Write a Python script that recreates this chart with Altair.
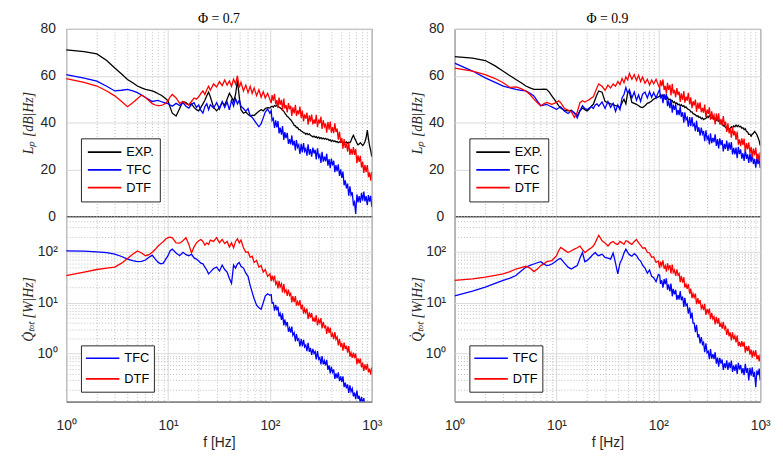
import altair as alt
import pandas as pd

# ---------------- data ----------------
FREQ = [1, 1.5, 2, 2.5, 3, 3.5, 4, 4.5, 5, 5.5, 6, 6.5, 7, 7.5, 8, 8.5, 9, 9.5, 10,
        10.5, 11, 12, 13, 14, 15, 16, 17, 18, 19, 20, 21, 22, 23, 24, 25, 26, 28, 30, 32,
        34, 36, 38, 40, 42, 44, 46, 48, 50, 52, 55, 58, 61, 64, 67, 70, 74, 78, 82, 86,
        90, 95, 100,
        103, 105, 108, 111, 114, 117, 120, 123, 126, 130,
        133, 137, 140, 144, 148, 152, 156, 160, 164, 168,
        173, 178, 182, 187, 192, 197, 203, 208, 214, 219,
        225, 231, 237, 244, 250, 257, 264, 271, 278, 285,
        293, 301, 309, 317, 325, 334, 343, 352, 361, 371,
        381, 391, 401, 412, 423, 434, 445, 457, 469, 482,
        495, 508, 521, 535, 549, 564, 579, 594, 610, 626,
        643, 660, 677, 695, 714, 733, 752, 772, 793, 814,
        835, 857, 880, 904, 928, 952, 977, 1000]

# Phi = 0.7, L_p [dB/Hz]
L07_EXP = [71.0, 70.3, 69.3, 66.5, 63.3, 60.7, 58.4, 57.0, 55.6, 54.8, 54.2, 53.9, 53.5, 53.0, 52.3, 51.8, 51.0, 50.2, 49.3,
           46.5, 44.0, 42.8, 46.0, 49.0, 48.5, 47.5, 48.0, 46.5, 45.5, 45.0, 46.5, 48.0, 49.5, 51.5, 53.0, 51.0, 46.5, 45.0, 46.5,
           48.5, 47.5, 50.0, 52.5, 51.0, 49.0, 52.0, 58.0, 51.0, 45.5, 44.0, 44.5, 43.5, 42.8, 43.2, 43.0, 44.0, 44.8, 45.5, 45.0,
           46.0, 46.4, 46.2,
           46.8, 47.0, 46.6, 47.3, 47.0, 47.4, 46.9, 46.6, 46.3, 45.8,
           45.2, 44.8, 44.0, 43.4, 42.6, 42.3, 41.6, 41.2, 40.5, 39.9,
           38.8, 38.6, 37.9, 37.9, 37.0, 37.0, 36.3, 36.2, 35.6, 35.6,
           35.0, 35.4, 34.8, 35.2, 34.6, 34.3, 33.9, 34.2, 33.7, 34.0,
           33.4, 33.8, 33.2, 33.6, 33.0, 33.4, 32.9, 33.3, 32.8, 33.0,
           32.4, 32.6, 32.0, 32.4, 31.9, 32.2, 31.7, 31.9, 31.4, 31.8,
           31.5, 31.9, 31.3, 31.7, 31.4, 31.8, 31.2, 31.6, 31.4, 32.2,
           33.6, 34.6, 33.4, 32.4, 31.2, 30.5, 30.8, 31.4, 30.8, 30.2,
           30.8, 31.8, 33.5, 36.8, 33.0, 30.0, 28.0, 25.5]
L07_TFC = [60.5, 59.0, 57.7, 55.5, 53.5, 53.8, 54.2, 53.5, 52.8, 51.8, 50.7, 49.8, 49.0, 49.3, 49.5, 49.0, 48.6, 48.3, 48.1,
           47.5, 47.0, 48.2, 47.3, 48.5, 47.0, 46.2, 47.8, 48.5, 46.5, 47.5, 45.2, 44.0, 46.8, 48.0, 45.5, 47.6, 46.2, 48.5, 45.8,
           49.0, 46.5, 48.8, 45.4, 49.5, 47.0, 50.2, 48.0, 49.5, 47.0, 46.0, 44.8, 46.0, 43.0, 42.2, 41.0, 39.5, 38.2, 39.5, 42.0,
           44.5, 45.8, 44.0,
           45.2, 40.9, 41.8, 37.7, 40.9, 37.9, 40.6, 35.4, 37.8, 34.8,
           38.5, 32.6, 35.9, 33.4, 35.6, 30.9, 32.9, 30.7, 34.5, 30.2,
           32.3, 28.1, 32.5, 29.4, 30.5, 26.6, 30.9, 27.3, 31.2, 27.7,
           28.9, 25.9, 30.7, 26.3, 28.7, 25.4, 29.3, 26.8, 28.4, 24.3,
           29.0, 25.1, 26.2, 22.8, 27.5, 23.3, 25.5, 23.4, 26.7, 21.6,
           24.4, 20.5, 24.6, 21.7, 23.7, 18.8, 21.8, 19.1, 22.2, 17.2,
           20.0, 16.4, 19.1, 13.2, 15.3, 11.9, 13.9, 8.8, 12.8, 9.0,
           10.2, 5.0, 6.1, 1.0, 9.3, 5.9, 8.6, 5.8, 10.0, 6.6,
           10.5, 6.3, 8.6, 4.7, 9.0, 6.2, 8.7, 4.0]
L07_DTF = [58.8, 57.2, 55.6, 53.5, 51.4, 49.0, 46.8, 48.5, 50.2, 51.8, 50.7, 49.3, 48.1, 47.5, 47.2, 47.3, 47.6, 48.3, 49.3,
           51.0, 52.0, 50.5, 48.2, 49.0, 48.0, 47.6, 49.0, 50.5, 50.0, 51.0, 52.5, 53.5, 52.0, 54.0, 55.5, 53.8, 56.5, 55.2, 57.5,
           55.8, 58.2, 56.0, 57.8, 55.5, 58.5, 56.5, 60.0, 55.0, 57.2, 53.5, 56.0, 52.8, 55.5, 52.5, 54.8, 51.5, 54.0, 50.8, 53.2,
           50.5, 52.5, 49.8,
           48.3, 51.7, 49.4, 52.3, 47.8, 49.6, 46.2, 50.7, 47.6, 49.7,
           45.2, 50.2, 46.0, 47.5, 44.3, 48.3, 45.7, 47.2, 42.8, 46.5,
           43.9, 47.6, 42.8, 45.2, 43.5, 46.8, 42.0, 45.1, 40.5, 43.5,
           41.7, 44.3, 39.1, 43.1, 40.4, 43.4, 39.2, 41.3, 39.5, 43.3,
           38.0, 41.3, 39.6, 42.5, 37.3, 41.0, 38.3, 39.6, 35.7, 40.3,
           37.0, 40.4, 35.7, 38.1, 35.5, 39.7, 36.0, 37.4, 32.7, 36.1,
           31.5, 33.4, 28.9, 33.0, 29.2, 31.1, 27.6, 31.5, 26.2, 28.8,
           26.3, 29.5, 26.2, 28.7, 22.7, 26.0, 23.2, 25.8, 20.8, 23.3,
           18.5, 21.9, 18.8, 21.8, 16.7, 18.7, 15.2, 19.0]

# Phi = 0.7, Q_tot [W/Hz]
Q07_TFC = [104, 103, 100, 96, 90, 81, 72, 67, 64, 65, 69, 78, 86, 72, 62, 58, 60, 72, 84,
           105, 113, 95, 84, 98, 88, 84, 90, 76, 72, 66, 60, 58, 50, 44, 37, 40, 47, 50, 42,
           55, 45, 40, 30, 24, 55, 48, 58, 62, 52, 48, 38, 33, 22, 16, 12, 9, 8, 7.5, 10,
           13.5, 15, 14,
           14.4, 9.8, 10.0, 7.0, 9.1, 7.1, 8.4, 5.4, 6.2, 4.6,
           6.2, 3.6, 4.7, 3.6, 4.2, 2.7, 3.2, 2.6, 3.4, 2.3,
           2.6, 1.74, 2.44, 1.84, 1.97, 1.39, 1.93, 1.40, 1.88, 1.36,
           1.48, 1.12, 1.63, 1.09, 1.30, 0.95, 1.25, 1.01, 1.11, 0.77,
           1.12, 0.78, 0.84, 0.62, 0.90, 0.62, 0.73, 0.59, 0.76, 0.48,
           0.59, 0.41, 0.56, 0.43, 0.49, 0.32, 0.41, 0.33, 0.43, 0.29,
           0.36, 0.28, 0.36, 0.22, 0.27, 0.21, 0.25, 0.17, 0.24, 0.18,
           0.207, 0.146, 0.173, 0.128, 0.189, 0.129, 0.149, 0.106, 0.143, 0.104,
           0.135, 0.09, 0.106, 0.074, 0.104, 0.08, 0.1, 0.068]
Q07_DTF = [34, 40, 45, 48, 50, 60, 74, 90, 104, 95, 84, 88, 98, 112, 130, 145, 160, 178, 190,
           195, 188, 150, 148, 165, 190, 140, 95, 125, 150, 165, 175, 160, 135, 150, 140, 170, 160, 190, 150,
           175, 145, 160, 125, 150, 120, 160, 180, 150, 170, 120, 98, 100, 78, 82, 62, 68, 50, 54, 40,
           45, 33, 37,
           26.6, 34.2, 27.7, 34.2, 23.1, 26.0, 19.1, 26.9, 20.4, 23.7,
           16.0, 23.4, 16.2, 18.0, 13.6, 18.1, 14.0, 15.2, 10.2, 13.5,
           10.3, 13.5, 8.8, 10.5, 8.8, 11.3, 7.4, 9.2, 6.1, 7.6,
           6.4, 7.7, 4.8, 6.5, 5.1, 6.3, 4.3, 5.0, 4.2, 5.7,
           3.6, 4.7, 4.0, 5.0, 3.15, 4.2, 3.26, 3.5, 2.45, 3.45,
           2.55, 3.26, 2.13, 2.47, 1.93, 2.65, 1.91, 2.13, 1.46, 1.96,
           1.36, 1.63, 1.15, 1.66, 1.23, 1.44, 1.05, 1.41, 0.88, 1.05,
           0.83, 1.05, 0.82, 1.01, 0.62, 0.81, 0.65, 0.80, 0.54, 0.67,
           0.46, 0.62, 0.48, 0.63, 0.43, 0.51, 0.39, 0.54]

# Phi = 0.9, L_p [dB/Hz]
L09_EXP = [68.2, 67.5, 66.5, 64.2, 61.9, 60.0, 58.4, 57.0, 55.6, 54.8, 54.2, 54.2, 54.2, 54.3, 54.2, 53.0, 51.4, 50.0, 48.6,
           47.2, 46.2, 45.2, 45.0, 45.3, 44.0, 43.0, 45.0, 46.2, 45.5, 45.0, 45.8, 47.0, 47.8, 50.0, 52.0, 53.5, 53.0, 49.0, 48.5,
           48.0, 47.8, 47.2, 47.0, 46.5, 48.5, 50.0, 48.0, 52.8, 53.0, 48.6, 48.2, 47.8, 47.2, 46.6, 46.4, 47.2, 48.2, 48.6, 49.2,
           50.0, 50.5, 51.0,
           51.2, 51.9, 51.0, 51.8, 50.6, 51.2, 50.2, 50.8, 49.7, 50.0,
           49.3, 49.4, 48.5, 48.9, 48.0, 48.4, 47.6, 47.9, 47.2, 47.6,
           46.9, 47.2, 46.4, 46.7, 46.0, 45.6, 45.4, 44.6, 44.6, 43.8,
           43.6, 43.3, 42.8, 42.9, 42.2, 42.4, 41.6, 42.0, 41.3, 41.6,
           41.8, 42.6, 42.2, 43.0, 42.5, 42.0, 42.2, 41.4, 41.8, 41.0,
           41.4, 40.6, 40.4, 39.6, 39.6, 38.6, 38.8, 37.8, 37.8, 36.9,
           37.4, 37.4, 38.2, 37.8, 38.6, 38.2, 38.9, 38.3, 38.8, 38.2,
           38.4, 37.6, 37.8, 37.0, 37.4, 36.2, 36.0, 35.0, 35.0, 34.2,
           35.0, 35.4, 36.2, 35.6, 34.8, 33.6, 32.2, 30.2]
L09_TFC = [65.4, 62.0, 59.1, 57.2, 55.6, 54.8, 54.2, 53.8, 53.5, 52.5, 51.4, 49.2, 47.2, 47.5, 47.8, 47.2, 46.7, 46.2, 45.6,
           46.2, 46.7, 44.8, 43.9, 45.0, 44.2, 42.0, 45.0, 47.2, 46.0, 45.6, 46.2, 46.8, 46.0, 47.5, 48.0, 47.0, 48.8, 46.0, 49.0,
           46.5, 48.2, 44.8, 47.5, 45.5, 50.5, 52.0, 55.0, 52.5, 54.0, 50.5, 53.0, 49.5, 51.8, 49.0, 52.2, 53.0, 50.5, 53.2, 50.8,
           52.8, 50.5, 53.0,
           54.2, 50.3, 51.9, 48.3, 52.1, 49.7, 52.3, 47.0, 49.3, 46.2,
           49.9, 44.2, 47.7, 45.4, 47.8, 43.2, 45.4, 43.2, 46.9, 42.5,
           44.4, 40.0, 44.4, 41.2, 42.2, 38.2, 42.3, 38.5, 42.3, 38.6,
           39.5, 36.3, 40.8, 36.0, 38.0, 34.4, 37.9, 35.1, 36.4, 32.0,
           36.7, 32.9, 34.1, 30.7, 35.4, 31.2, 33.5, 31.6, 35.0, 30.0,
           32.9, 29.0, 33.3, 30.4, 32.5, 27.7, 30.9, 28.7, 32.3, 27.9,
           31.4, 28.4, 31.7, 26.4, 29.2, 26.4, 29.3, 24.8, 29.6, 26.5,
           28.5, 24.6, 26.9, 23.6, 28.6, 24.5, 26.4, 22.8, 26.8, 23.1,
           26.7, 22.3, 24.5, 20.7, 25.0, 22.2, 25.0, 20.6]
L09_DTF = [63.3, 62.0, 60.5, 58.8, 57.0, 55.0, 55.2, 54.5, 53.5, 52.0, 50.0, 48.5, 47.2, 48.0, 48.6, 48.2, 47.8, 48.2, 48.6,
           49.3, 48.5, 46.0, 45.3, 44.5, 42.2, 44.5, 48.5, 49.3, 48.8, 49.3, 49.8, 50.5, 51.0, 53.0, 55.0, 56.5, 55.5, 53.8, 56.0,
           54.8, 56.5, 55.5, 57.5, 56.2, 58.8, 57.0, 59.5, 58.2, 61.0, 58.5, 60.5, 58.0, 60.2, 57.5, 59.5, 56.8, 58.5, 56.0, 58.2,
           56.5, 58.5, 56.0,
           54.8, 58.0, 55.6, 58.4, 53.9, 55.7, 52.4, 57.0, 54.0, 56.1,
           51.6, 56.6, 52.4, 54.0, 50.8, 54.7, 51.8, 53.2, 48.8, 52.5,
           49.7, 53.4, 48.5, 51.1, 49.4, 52.7, 47.8, 50.8, 46.2, 49.1,
           47.3, 49.8, 44.6, 48.5, 45.8, 48.6, 44.4, 46.3, 44.2, 47.7,
           42.3, 45.5, 43.7, 46.5, 41.2, 44.8, 42.0, 43.2, 39.2, 43.8,
           40.5, 43.9, 39.2, 41.5, 38.8, 42.8, 38.9, 40.4, 36.0, 39.7,
           35.4, 37.7, 33.6, 38.1, 34.5, 36.4, 32.6, 36.2, 30.6, 32.8,
           29.9, 33.3, 30.4, 33.2, 27.6, 31.2, 28.6, 31.5, 26.8, 29.6,
           25.2, 28.9, 26.0, 29.3, 24.5, 26.7, 23.4, 27.4]

# Phi = 0.9, Q_tot [W/Hz]
Q09_TFC = [13.6, 17.0, 20.3, 24.0, 27.4, 30.5, 34.2, 42, 49.8, 54, 57.7, 61, 64, 58, 53.5, 55, 57.7, 62, 67,
           72, 74, 60, 50, 46, 50, 53.5, 75, 97, 64, 68, 74, 82, 90, 97, 88, 84, 90, 78, 75,
           72, 95, 60, 37, 60, 72, 95, 113, 98, 88, 82, 92, 85, 72, 66, 55, 48, 38, 44, 33,
           31, 26, 36,
           35, 23.5, 27.6, 19.9, 29.3, 23.1, 30.1, 18.0, 22.9, 16.7,
           23.9, 13.4, 18.8, 14.6, 17.9, 11.4, 14.2, 11.6, 16.9, 11.2,
           13.3, 8.3, 12.5, 8.8, 9.4, 6.1, 8.1, 4.9, 6.4, 4.0,
           4.0, 2.64, 3.7, 2.09, 2.41, 1.6, 2.12, 1.53, 1.67, 1.07,
           1.6, 1.04, 1.11, 0.78, 1.23, 0.8, 0.98, 0.78, 1.07, 0.64,
           0.84, 0.56, 0.83, 0.64, 0.77, 0.48, 0.65, 0.52, 0.74, 0.48,
           0.68, 0.52, 0.73, 0.44, 0.59, 0.46, 0.62, 0.40, 0.66, 0.49,
           0.60, 0.41, 0.52, 0.38, 0.63, 0.42, 0.52, 0.30, 0.53, 0.37,
           0.54, 0.35, 0.44, 0.22, 0.47, 0.38, 0.51, 0.30]
Q09_DTF = [27.4, 29.5, 31.8, 34.5, 37, 41, 46, 49, 52, 48, 41, 46, 53.5, 58, 64, 66, 67, 75, 84,
           105, 122, 108, 97, 105, 113, 120, 130, 110, 97, 105, 113, 120, 130, 150, 180, 210, 165, 150, 130,
           150, 160, 145, 140, 160, 150, 140, 165, 160, 150, 140, 160, 175, 150, 135, 118, 120, 98, 95, 78,
           80, 62, 66,
           48, 64, 53.5, 67.7, 46.5, 53.6, 40.7, 59.4, 46.5, 55.2,
           37.7, 56.1, 39.3, 44.1, 33.6, 45, 34.8, 37.5, 25.3, 33.6,
           24.9, 31.7, 19.9, 23.1, 18.8, 23.4, 15.1, 18.9, 12.3, 15.2,
           12.7, 15.1, 9.4, 12.3, 9.5, 11.3, 7.7, 8.8, 7.2, 9.5,
           5.8, 7.5, 6.3, 7.7, 4.8, 6.3, 4.8, 5.35, 3.75, 5.3,
           3.9, 5.0, 3.36, 3.94, 3.1, 4.2, 3.06, 3.4, 2.35, 3.1,
           2.19, 2.62, 1.83, 2.64, 1.92, 2.24, 1.66, 2.26, 1.42, 1.71,
           1.36, 1.76, 1.38, 1.7, 1.05, 1.41, 1.12, 1.42, 0.96, 1.21,
           0.84, 1.15, 0.89, 1.17, 0.78, 0.94, 0.71, 0.97]

TOP_SERIES = ["EXP.", "TFC", "DTF"]
TOP_COLORS = ["#000000", "#0000ff", "#ff0000"]
BOT_SERIES = ["TFC", "DTF"]
BOT_COLORS = ["#0000ff", "#ff0000"]

X_TICKS = [1, 2, 3, 4, 5, 6, 7, 8, 9, 10, 20, 30, 40, 50, 60, 70, 80, 90,
           100, 200, 300, 400, 500, 600, 700, 800, 900, 1000]
X_MAJOR = [1, 10, 100, 1000]
LP_TICKS = [0, 20, 40, 60, 80]
Q_TICKS = [0.2, 0.3, 0.4, 0.5, 0.6, 0.7, 0.8, 0.9, 1, 2, 3, 4, 5, 6, 7, 8, 9,
           10, 20, 30, 40, 50, 60, 70, 80, 90, 100, 200, 300, 400, 500]
Q_MAJOR = [1, 10, 100]
TITLES = ["\u03a6 = 0.7", "\u03a6 = 0.9"]

# ---------------- helpers ----------------
def long_df(names, arrays):
    rows = []
    for name, vals in zip(names, arrays):
        assert len(vals) == len(FREQ), (name, len(vals), len(FREQ))
        for f, v in zip(FREQ, vals):
            rows.append({"f": f, "v": v, "s": name})
    return pd.DataFrame(rows)


def major_test(vals):
    return "indexof([" + ", ".join(str(v) for v in vals) + "], datum.value) >= 0"


SUP = "datum.value == 1 ? '10\u2070' : datum.value == 10 ? '10\u00b9' : datum.value == 100 ? '10\u00b2' : datum.value == 1000 ? '10\u00b3' : ''"

GRID_MAJOR = "#d9d9d9"
GRID_MINOR = "#bdbdbd"
W, H_TOP, H_BOT = 310, 190, 188


def grid_props(major):
    t = major_test(major)
    return dict(
        grid=True,
        gridDash={"condition": {"test": t, "value": []}, "value": [1, 2]},
        gridColor={"condition": {"test": t, "value": GRID_MAJOR}, "value": GRID_MINOR},
        gridWidth=1,
    )


def x_enc(show_labels):
    return alt.X(
        "f:Q",
        scale=alt.Scale(type="log", domain=[1, 1000], nice=False),
        axis=alt.Axis(
            values=X_TICKS,
            labels=show_labels,
            labelExpr=SUP,
            labelOverlap=False,
            labelFlush=False,
            labelPadding=17,
            title="f [Hz]" if show_labels else None,
            titlePadding=4,
            titleFont="Liberation Sans",
            titleFontSize=14,
            titleFontStyle="normal",
            titleFontWeight="normal",
            titleColor="#262626",
            **grid_props(X_MAJOR),
        ),
    )


def legend(y, n):
    return alt.Legend(
        orient="none",
        legendX=15,
        legendY=y,
        title=None,
        symbolType="stroke",
        symbolSize=1156,
        symbolStrokeWidth=1.6,
        clipHeight=16 if n == 3 else 18,
        rowPadding=2 if n == 3 else 3,
        padding=6 if n == 3 else 4,
        strokeColor="#262626",
        fillColor="white",
        labelFont="Liberation Sans",
        labelFontSize=13,
        labelColor="#000000",
        labelOffset=4,
        labelExpr="datum.label + '\u00a0\u00a0'",
    )


LINE_W = 1.3


def top_panel(arrays, title):
    df = long_df(TOP_SERIES, arrays)
    return alt.Chart(df, title=alt.Title(title, font="Liberation Serif", fontSize=14,
                                         fontWeight="normal", color="#000000", offset=-4)).mark_line(
        strokeWidth=LINE_W, clip=True
    ).encode(
        x=x_enc(False),
        y=alt.Y(
            "v:Q",
            scale=alt.Scale(domain=[0, 80], nice=False),
            axis=alt.Axis(values=LP_TICKS, title="L\u209a  [dB|Hz]", titleX=-31,
                          labelPadding=11, **grid_props(LP_TICKS)),
        ),
        color=alt.Color("s:N", scale=alt.Scale(domain=TOP_SERIES, range=TOP_COLORS),
                        legend=legend(111, 3)),
        order=alt.Order("s:N"),
    ).properties(width=W, height=H_TOP)


def bot_panel(arrays):
    df = long_df(BOT_SERIES, arrays)
    return alt.Chart(df).mark_line(strokeWidth=LINE_W, clip=True).encode(
        x=x_enc(True),
        y=alt.Y(
            "v:Q",
            scale=alt.Scale(type="log", domain=[0.115, 500], nice=False),
            axis=alt.Axis(values=Q_TICKS, labelExpr=SUP, labelOverlap=False,
                          title="Q\u0307\u209c\u2092\u209c  [W|Hz]", titleX=-31,
                          labelPadding=9, **grid_props(Q_MAJOR)),
        ),
        color=alt.Color("s:N", scale=alt.Scale(domain=BOT_SERIES, range=BOT_COLORS),
                        legend=legend(131, 2)),
    ).properties(width=W, height=H_BOT)


left = alt.vconcat(top_panel([L07_EXP, L07_TFC, L07_DTF], TITLES[0]),
                   bot_panel([Q07_TFC, Q07_DTF]), spacing=0, bounds="flush").resolve_scale(
    color="independent", y="independent")
right = alt.vconcat(top_panel([L09_EXP, L09_TFC, L09_DTF], TITLES[1]),
                    bot_panel([Q09_TFC, Q09_DTF]), spacing=0, bounds="flush").resolve_scale(
    color="independent", y="independent")

chart = alt.hconcat(left, right, spacing=27).resolve_scale(
    color="independent", y="independent", x="independent"
).properties(
    padding={"left": 13, "top": 0, "right": 4, "bottom": 2},
    background="white",
).configure_view(
    stroke="#262626", strokeWidth=1
).configure_axis(
    labelFont="Liberation Sans",
    labelFontSize=14,
    labelColor="#262626",
    titleFont="Liberation Serif",
    titleFontSize=14,
    titleFontStyle="italic",
    titleFontWeight="normal",
    titleColor="#262626",
    ticks=False,
    domain=False,
)

chart.save("out.html", embed_options={"renderer": "svg", "actions": False})
